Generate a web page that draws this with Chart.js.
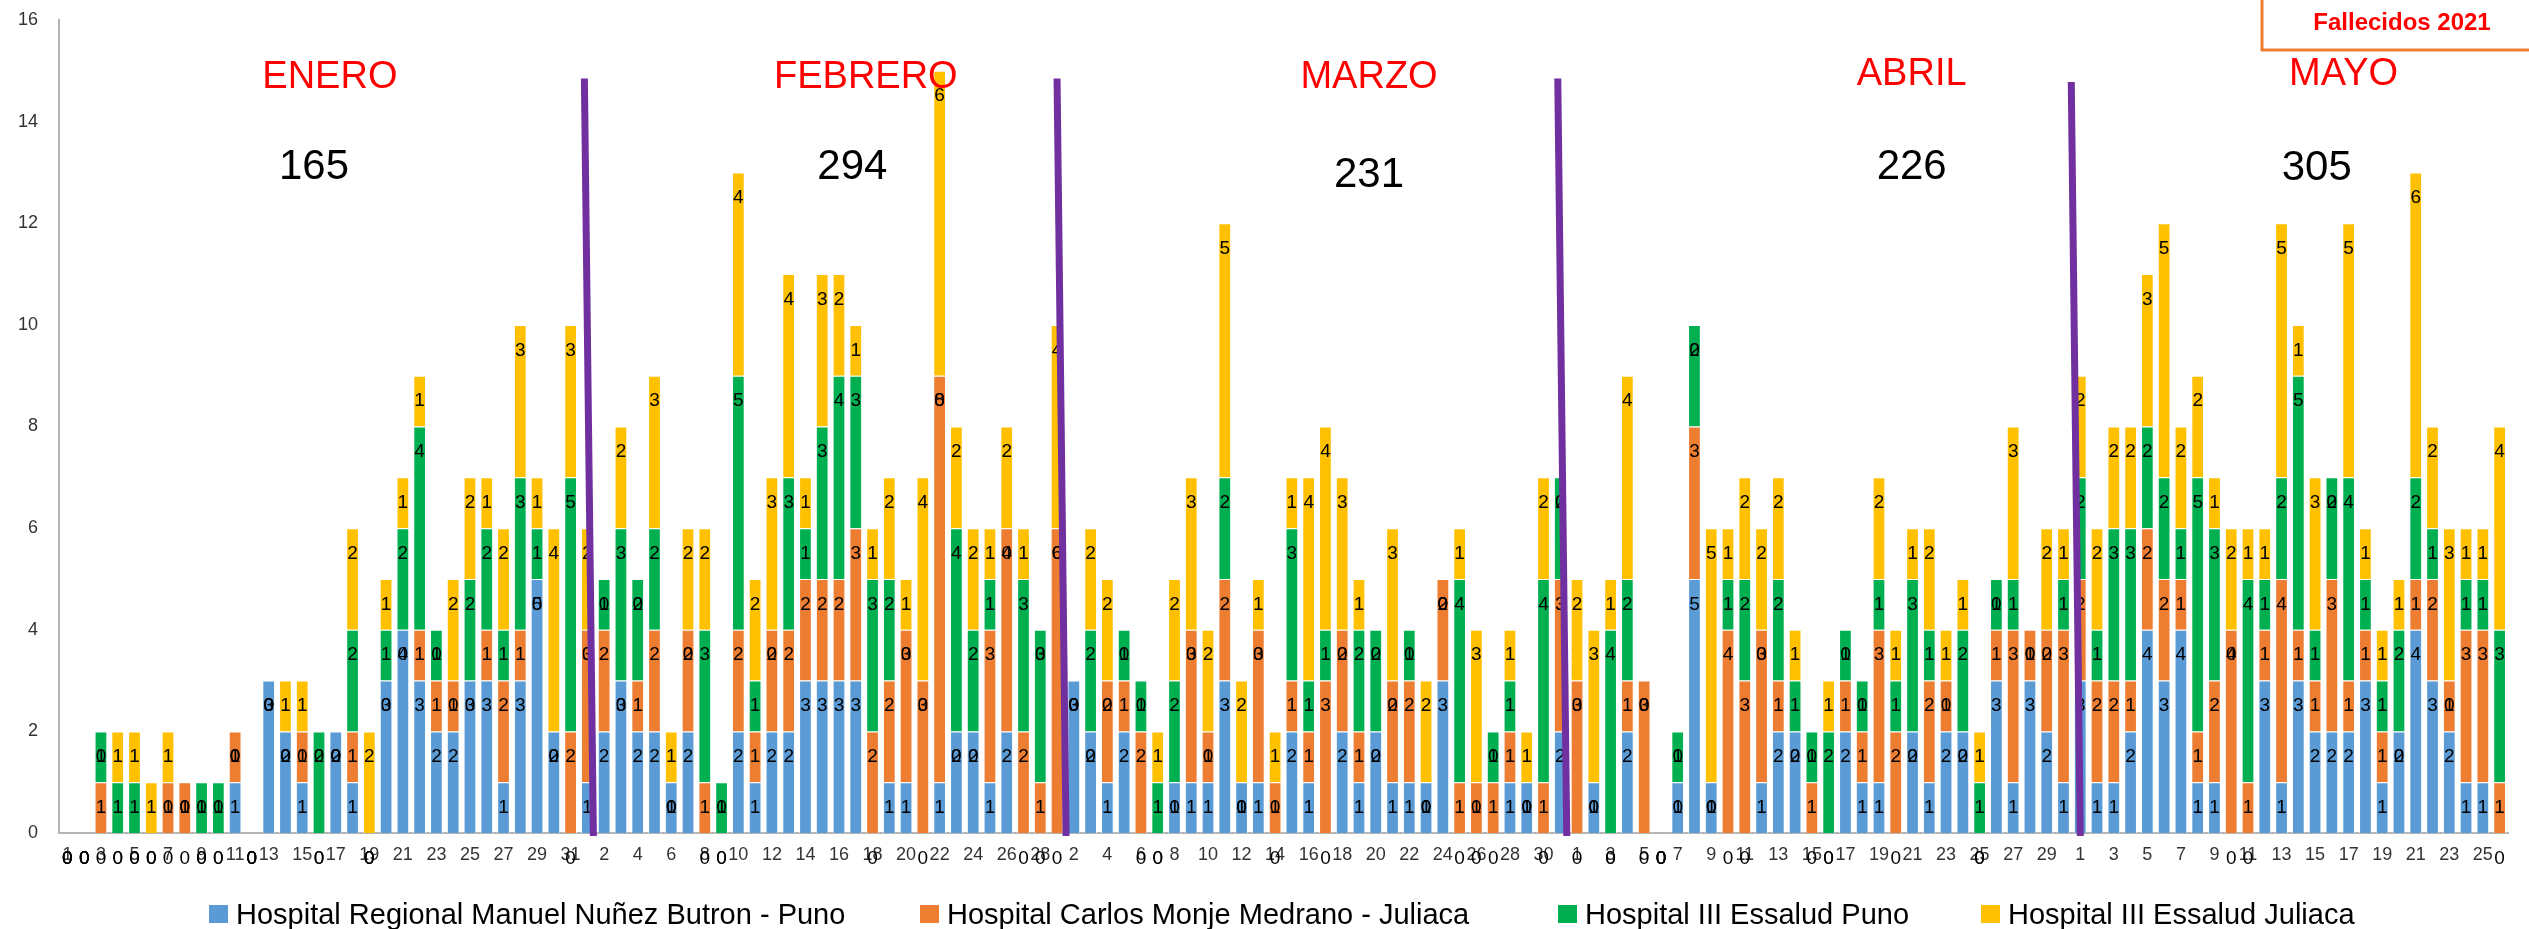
<!DOCTYPE html>
<html>
<head>
<meta charset="utf-8">
<script src="https://cdn.jsdelivr.net/npm/chart.js@4.4.1/dist/chart.umd.min.js"></script>
<style>
html,body{margin:0;padding:0;background:#fff;overflow:hidden}
#wrap{position:relative;width:2529px;height:929px}
#legend{position:absolute;left:0;top:0;width:2529px;height:929px;pointer-events:none;font-family:"Liberation Sans",Arial,sans-serif;font-size:29px;color:#000}
.item{position:absolute;top:896px;height:36px;display:flex;align-items:center;white-space:nowrap}
.sw{width:19px;height:18px;margin-right:8px;flex:none}
</style>
</head>
<body>
<div id="wrap">
  <canvas id="c"></canvas>
  <div id="legend"></div>
</div>
<script>
// ---------- categories ----------
const monthLengths = [31, 28, 31, 30, 26];
const dayLabels = [];
monthLengths.forEach(n => { for (let d = 1; d <= n; d++) dayLabels.push(String(d)); });

// ---------- series names & colours ----------
const seriesNames = [
  'Hospital Regional Manuel Nuñez Butron - Puno',
  'Hospital Carlos Monje Medrano - Juliaca',
  'Hospital III Essalud Puno',
  'Hospital III Essalud Juliaca'
];
const seriesColors = ['#5B9BD5', '#ED7D31', '#00B050', '#FFC000'];

// ---------- values (Jan 1 .. May 26) ----------
const puno = [
  // Enero
  0,0,0,0,0,0,0,0,0,0,1,0,3,2,1,0,2,1,0,3,4,3,2,2,3,3,1,3,5,2,0,
  // Febrero
  1,2,3,2,2,1,2,0,0,2,1,2,2,3,3,3,3,0,1,1,0,1,2,2,1,2,0,0,
  // Marzo
  0,3,2,1,2,0,0,1,1,1,3,1,1,0,2,1,0,2,1,2,1,1,1,3,0,0,0,1,1,0,2,
  // Abril
  0,1,0,2,0,0,1,5,1,0,0,1,2,2,0,0,2,1,1,0,2,1,2,2,0,3,1,3,2,1,
  // Mayo
  3,1,1,2,4,3,4,1,1,0,0,3,1,3,2,2,2,3,1,2,4,3,2,1,1,0
];
const juliacaMinsa = [
  0,0,1,0,0,0,1,1,0,0,1,0,0,0,1,0,0,1,0,0,0,1,1,1,0,1,2,1,0,0,2,
  3,2,0,1,2,0,2,1,0,2,1,2,2,2,2,2,3,2,2,3,3,8,0,0,3,4,2,1,
  6,0,0,2,1,2,0,0,3,1,2,0,3,1,1,1,3,2,1,0,2,2,0,2,1,1,1,1,0,1,3,
  3,0,0,1,3,0,0,3,0,4,3,3,1,0,1,0,1,1,3,2,0,2,1,0,0,1,3,1,2,3,
  2,2,2,1,2,2,1,1,2,4,1,1,4,1,1,3,1,1,1,0,1,2,1,3,3,1
];
const essaludPuno = [
  0,0,1,1,1,0,0,0,1,1,0,0,0,0,0,2,0,2,0,1,2,4,1,0,2,2,1,3,1,0,5,
  0,1,3,2,2,0,0,3,1,5,1,0,3,1,3,4,3,3,2,0,0,0,4,2,1,0,3,3,
  0,0,2,0,1,1,1,2,0,0,2,0,0,0,3,1,1,0,2,2,0,1,0,0,4,0,1,1,0,4,2,
  0,0,4,2,0,0,1,2,0,1,2,0,2,1,1,2,1,1,1,1,3,1,0,2,1,1,1,0,0,1,
  2,1,3,3,2,2,1,5,3,0,4,1,2,5,1,2,4,1,1,2,2,1,0,1,1,3
];
const essaludJuliaca = [
  0,0,0,1,1,1,1,0,0,0,0,0,0,1,1,0,0,2,2,1,1,1,0,2,2,1,2,3,1,4,3,
  2,0,2,0,3,1,2,2,0,4,2,3,4,1,3,2,1,1,2,1,4,6,2,2,1,2,1,0,
  4,0,2,2,0,0,1,2,3,2,5,2,1,1,1,4,4,3,1,0,3,0,2,0,1,3,0,1,1,2,0,
  2,3,1,4,0,0,0,0,5,1,2,2,2,1,0,1,0,0,2,1,1,2,1,1,1,0,3,0,2,1,
  2,2,2,2,3,5,2,2,1,2,1,1,5,1,3,0,5,1,1,1,6,2,3,1,1,4
];
const seriesValues = [puno, juliacaMinsa, essaludPuno, essaludJuliaca];

// ---------- y ticks ----------
const yMax = 16, yStep = 2;

// ---------- month annotations ----------
const monthNames  = ['ENERO', 'FEBRERO', 'MARZO', 'ABRIL', 'MAYO'];
const monthTotals = ['165', '294', '231', '226', '305'];
const monthNameAt  = [15.65, 47.6, 77.6, 109.95, 135.7];   // category position
const monthNameY   = [14.86, 14.86, 14.86, 14.92, 14.92];   // value position
const monthTotalAt = [14.7, 46.8, 77.6, 109.95, 134.1];
const monthTotalY  = [13.1, 13.1, 12.95, 13.1, 13.08];
// purple separators: category index, slant offsets at top / bottom
const breakIdx  = [31, 59, 89, 120];
const breakTopD = [-3, 0, -2.5, -9];
const breakBotD = [6, 9, 6.5, 0];
const breakTopV = [14.85, 14.85, 14.85, 14.78];

const annot = {
  id: 'annot',
  afterDatasetsDraw(chart) {
    const {ctx, scales: {x, y}} = chart;
    const half = y.getPixelForValue(0) - y.getPixelForValue(0.5);
    ctx.save();
    ctx.font = '19px "Liberation Sans", Arial, sans-serif';
    ctx.fillStyle = '#000';
    ctx.textAlign = 'center';
    ctx.textBaseline = 'middle';
    chart.data.datasets.forEach((ds, i) => {
      const meta = chart.getDatasetMeta(i);
      meta.data.forEach((el, j) => {
        ctx.fillText(String(ds.data[j]), el.x, el.y + half);
      });
    });
    // month separators
    ctx.strokeStyle = '#7030A0';
    ctx.lineWidth = 7;
    breakIdx.forEach((idx, k) => {
      const cx = x.getPixelForValue(idx);
      ctx.beginPath();
      ctx.moveTo(cx + breakTopD[k], y.getPixelForValue(breakTopV[k]));
      ctx.lineTo(cx + breakBotD[k], y.getPixelForValue(-0.06));
      ctx.stroke();
    });
    // month names & totals
    ctx.font = '38px "Liberation Sans", Arial, sans-serif';
    ctx.fillStyle = '#FF0000';
    monthNames.forEach((m, k) => {
      ctx.fillText(m, x.getPixelForValue(monthNameAt[k]), y.getPixelForValue(monthNameY[k]));
    });
    ctx.font = '42px "Liberation Sans", Arial, sans-serif';
    ctx.fillStyle = '#000';
    monthTotals.forEach((t, k) => {
      ctx.fillText(t, x.getPixelForValue(monthTotalAt[k]), y.getPixelForValue(monthTotalY[k]));
    });
    // title box
    ctx.strokeStyle = '#ED7D31';
    ctx.lineWidth = 3;
    ctx.strokeRect(2262, -5, 300, 55);
    ctx.font = 'bold 24px "Liberation Sans", Arial, sans-serif';
    ctx.fillStyle = '#FF0000';
    ctx.fillText('Fallecidos 2021', 2402, 23);
    ctx.restore();
  }
};

const chart = new Chart(document.getElementById('c'), {
  type: 'bar',
  data: {
    labels: dayLabels,
    datasets: seriesNames.map((n, i) => ({
      label: n,
      data: seriesValues[i],
      backgroundColor: seriesColors[i],
      borderColor: 'rgba(255,255,255,0.65)',
      borderWidth: 1,
      barPercentage: 0.76,
      categoryPercentage: 1
    }))
  },
  options: {
    responsive: true,
    maintainAspectRatio: false,
    animation: false,
    layout: {padding: {left: 0, top: 20, right: 21, bottom: 0}},
    plugins: {legend: {display: false}, tooltip: {enabled: false}},
    scales: {
      x: {
        stacked: true,
        grid: {display: false, drawTicks: false},
        border: {display: true, color: '#B4B4B4', width: 2},
        ticks: {
          autoSkip: false, maxRotation: 0, minRotation: 0, padding: 11,
          color: '#333', font: {family: '"Liberation Sans", Arial, sans-serif', size: 18},
          callback: function (v, i) { return i % 2 === 0 ? this.getLabelForValue(v) : ''; }
        },
        afterFit(s) { s.height = 96; }
      },
      y: {
        stacked: true, min: 0, max: yMax,
        grid: {display: false, drawTicks: false},
        border: {display: true, color: '#B4B4B4', width: 2},
        ticks: {
          stepSize: yStep, padding: 21, color: '#333',
          font: {family: '"Liberation Sans", Arial, sans-serif', size: 18}
        },
        afterFit(s) { s.width = 59; s.paddingTop = 0; s.paddingBottom = 0; }
      }
    }
  },
  plugins: [annot]
});

// HTML legend
const legendLeft = [209, 920, 1558, 1981];
const lg = document.getElementById('legend');
seriesNames.forEach((n, i) => {
  const d = document.createElement('div');
  d.className = 'item';
  d.style.left = legendLeft[i] + 'px';
  d.innerHTML = '<span class="sw" style="background:' + seriesColors[i] + '"></span><span>' + n + '</span>';
  lg.appendChild(d);
});
</script>
</body>
</html>
